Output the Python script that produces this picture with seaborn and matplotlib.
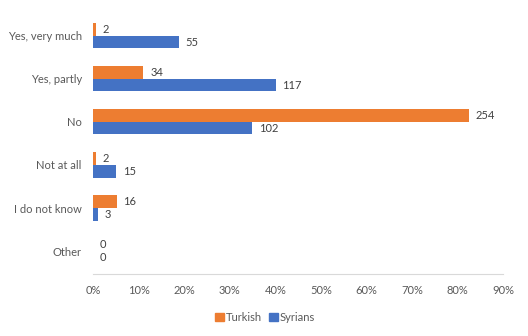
import matplotlib
matplotlib.use("Agg")
import matplotlib.pyplot as plt
import seaborn as sns
import pandas as pd
from matplotlib.ticker import PercentFormatter
from matplotlib.patches import Patch

categories = ["Yes, very much", "Yes, partly", "No", "Not at all", "I do not know", "Other"]
turkish_counts = [2, 34, 254, 2, 16, 0]
syrian_counts = [55, 117, 102, 15, 3, 0]
series = ["Turkish", "Syrians"]
colors = {"Turkish": "#ED7D31", "Syrians": "#4472C4"}
xticks = [0, 10, 20, 30, 40, 50, 60, 70, 80, 90]

sns.set_theme(style="white")
plt.rcParams['font.family'] = ['Lato', 'DejaVu Sans']

rows = []
for name, counts in zip(series, [turkish_counts, syrian_counts]):
    total = sum(counts)
    for c, v in zip(categories, counts):
        rows.append({"Category": c, "Group": name, "Pct": v / total * 100, "Count": v})
df = pd.DataFrame(rows)

fig = plt.figure(figsize=(5.28, 3.36), dpi=100)
ax = fig.add_axes([0.176, 0.185, 0.777, 0.776])
sns.barplot(data=df, y="Category", x="Pct", hue="Group", order=categories,
            hue_order=series, palette=colors, orient="h", width=0.6, gap=0.06,
            linewidth=0, ax=ax, legend=False, saturation=1)

for cont, counts in zip(ax.containers, [turkish_counts, syrian_counts]):
    ax.bar_label(cont, labels=[str(v) for v in counts], padding=5,
                 fontsize=8, color="#404040")

ax.set_xlim(0, 90)
ax.set_ylim(5.53, -0.53)
ax.set_xticks(xticks)
ax.xaxis.set_major_formatter(PercentFormatter(decimals=0))
ax.set_xlabel("")
ax.set_ylabel("")
ax.tick_params(axis="both", length=0, labelsize=8, labelcolor="#595959")
ax.tick_params(axis="x", pad=8)
ax.tick_params(axis="y", pad=8)
for s in ["top", "right", "left"]:
    ax.spines[s].set_visible(False)
ax.spines["bottom"].set_color("#D9D9D9")
ax.spines["bottom"].set_linewidth(0.8)

handles = [Patch(color=colors[s], label=s) for s in series]
fig.legend(handles=handles, loc="center", bbox_to_anchor=(0.502, 0.056), ncol=2,
           frameon=False, fontsize=8, handlelength=0.8, handleheight=0.8,
           handletextpad=0.15, columnspacing=0.6, labelcolor="#595959")

fig.savefig("out.png", dpi=100)
